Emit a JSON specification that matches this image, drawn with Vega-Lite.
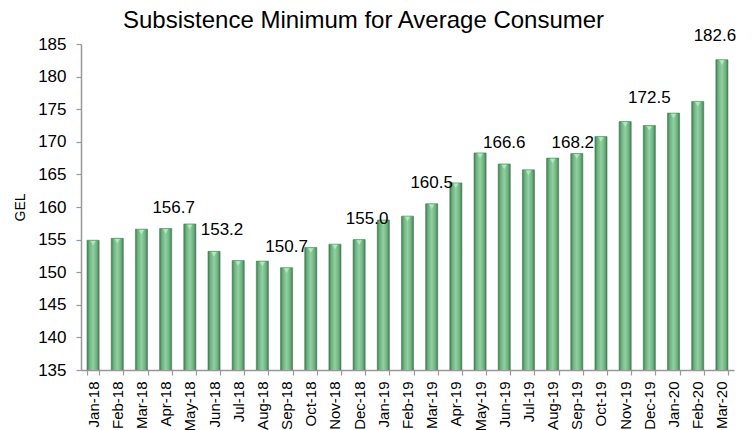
{
  "$schema": "https://vega.github.io/schema/vega-lite/v6.json",
  "width": 653,
  "height": 326,
  "autosize": {"type": "none"},
  "padding": {"left": 81, "top": 44, "right": 18, "bottom": 60},
  "background": "white",
  "config": {
    "view": {"stroke": null},
    "font": "Liberation Sans",
    "axis": {"grid": false}
  },
  "title": {
    "text": "Subsistence Minimum for Average Consumer",
    "font": "Liberation Sans",
    "fontSize": 24,
    "fontWeight": "normal",
    "color": "#000000",
    "anchor": "start",
    "frame": "group",
    "dx": 42,
    "dy": 20,
    "offset": 14
  },
  "data": {
    "values": [
      {"month": "Jan-18", "value": 154.9},
      {"month": "Feb-18", "value": 155.2},
      {"month": "Mar-18", "value": 156.6},
      {"month": "Apr-18", "value": 156.7, "label": 156.7},
      {"month": "May-18", "value": 157.4},
      {"month": "Jun-18", "value": 153.2, "label": 153.2},
      {"month": "Jul-18", "value": 151.8},
      {"month": "Aug-18", "value": 151.7},
      {"month": "Sep-18", "value": 150.7, "label": 150.7},
      {"month": "Oct-18", "value": 153.8},
      {"month": "Nov-18", "value": 154.3},
      {"month": "Dec-18", "value": 155.0, "label": 155.0},
      {"month": "Jan-19", "value": 158.0},
      {"month": "Feb-19", "value": 158.6},
      {"month": "Mar-19", "value": 160.5, "label": 160.5},
      {"month": "Apr-19", "value": 163.7},
      {"month": "May-19", "value": 168.3},
      {"month": "Jun-19", "value": 166.6, "label": 166.6},
      {"month": "Jul-19", "value": 165.7},
      {"month": "Aug-19", "value": 167.5},
      {"month": "Sep-19", "value": 168.2, "label": 168.2},
      {"month": "Oct-19", "value": 170.8},
      {"month": "Nov-19", "value": 173.1},
      {"month": "Dec-19", "value": 172.5, "label": 172.5},
      {"month": "Jan-20", "value": 174.4},
      {"month": "Feb-20", "value": 176.2},
      {"month": "Mar-20", "value": 182.6, "label": 182.6}
    ]
  },
  "encoding": {
    "x": {
      "field": "month",
      "type": "ordinal",
      "sort": null,
      "scale": {"paddingInner": 0.5, "paddingOuter": 0.25},
      "axis": {
        "title": null,
        "labelAngle": -90,
        "labelFontSize": 15,
        "labelColor": "#000000",
        "labelPadding": 6,
        "tickBand": "extent",
        "tickSize": 5,
        "tickColor": "#999999",
        "domainColor": "#999999",
        "domainWidth": 1.5,
        "tickWidth": 1.2
      }
    },
    "y": {
      "field": "value",
      "type": "quantitative",
      "scale": {"domain": [135, 185], "nice": false, "zero": false},
      "axis": {
        "title": "GEL",
        "titleFontSize": 14,
        "titleFontWeight": "normal",
        "titleColor": "#000000",
        "titlePadding": 10,
        "values": [135, 140, 145, 150, 155, 160, 165, 170, 175, 180, 185],
        "labelFontSize": 17,
        "labelColor": "#000000",
        "labelPadding": 10,
        "tickSize": 5,
        "tickColor": "#999999",
        "domainColor": "#999999",
        "domainWidth": 1.5,
        "tickWidth": 1.2
      }
    }
  },
  "layer": [
    {
      "mark": {
        "type": "bar",
        "clip": true,
        "stroke": "#4a7f57",
        "strokeWidth": 0.6,
        "fill": {
          "gradient": "linear",
          "x1": 0, "x2": 1, "y1": 0, "y2": 0,
          "stops": [
            {"offset": 0, "color": "#3f7a4f"},
            {"offset": 0.2, "color": "#6fb281"},
            {"offset": 0.5, "color": "#8fd1a0"},
            {"offset": 0.8, "color": "#6fb281"},
            {"offset": 1, "color": "#3f7a4f"}
          ]
        }
      }
    },
    {
      "mark": {"type": "point", "shape": "triangle-down", "filled": true, "color": "#b3e6bf", "size": 28, "opacity": 1, "yOffset": 3}
    },
    {
      "transform": [{"filter": "indexof(['Apr-18','Jun-18','Dec-18'], datum.month) >= 0"}],
      "mark": {"type": "text", "fontSize": 17, "color": "#000000", "baseline": "alphabetic", "dy": -16, "dx": 8},
      "encoding": {"text": {"field": "label", "type": "quantitative", "format": ".1f"}}
    },
    {
      "transform": [{"filter": "indexof(['Sep-18','Mar-19','Jun-19'], datum.month) >= 0"}],
      "mark": {"type": "text", "fontSize": 17, "color": "#000000", "baseline": "alphabetic", "dy": -16},
      "encoding": {"text": {"field": "label", "type": "quantitative", "format": ".1f"}}
    },
    {
      "transform": [{"filter": "datum.month == 'Sep-19'"}],
      "mark": {"type": "text", "fontSize": 17, "color": "#000000", "baseline": "alphabetic", "dy": -6, "dx": -4},
      "encoding": {"text": {"field": "label", "type": "quantitative", "format": ".1f"}}
    },
    {
      "transform": [{"filter": "datum.month == 'Dec-19'"}],
      "mark": {"type": "text", "fontSize": 17, "color": "#000000", "baseline": "alphabetic", "dy": -23},
      "encoding": {"text": {"field": "label", "type": "quantitative", "format": ".1f"}}
    },
    {
      "transform": [{"filter": "datum.month == 'Mar-20'"}],
      "mark": {"type": "text", "fontSize": 17, "color": "#000000", "baseline": "alphabetic", "dy": -19, "dx": -7},
      "encoding": {"text": {"field": "label", "type": "quantitative", "format": ".1f"}}
    }
  ]
}
